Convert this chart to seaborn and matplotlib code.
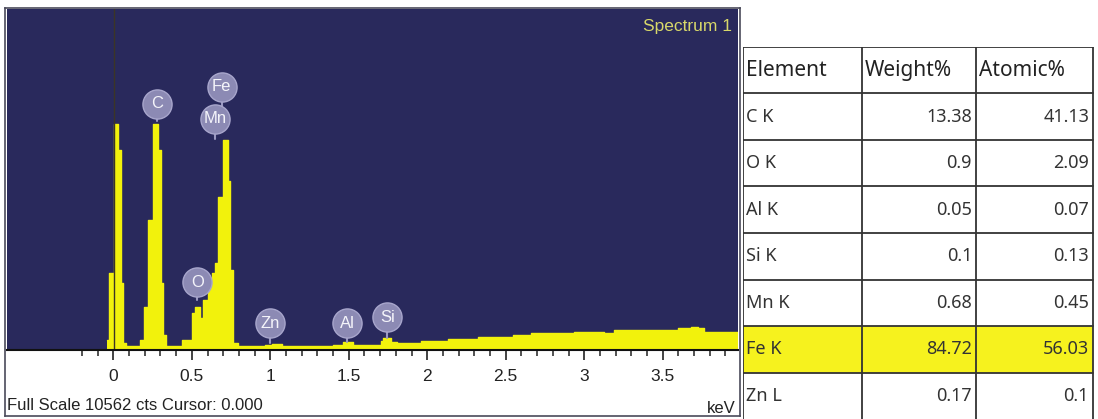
import numpy as np
import pandas as pd
import matplotlib
matplotlib.use('Agg')
import matplotlib.pyplot as plt
import seaborn as sns

# spectrum: step edges (keV) and counts per step
edges_kev = [-0.040, -0.027, 0.004, 0.030, 0.049, 0.062, 0.081, 0.170, 0.196, 0.221,
             0.253, 0.285, 0.304, 0.317, 0.336, 0.438, 0.502, 0.521, 0.553, 0.572,
             0.604, 0.630, 0.649, 0.668, 0.700, 0.732, 0.745, 0.764, 0.796, 0.968,
             1.013, 1.077, 1.191, 1.402, 1.466, 1.529, 1.702, 1.721, 1.766, 1.810,
             1.957, 2.129, 2.321, 2.544, 2.659, 2.933, 3.125, 3.189, 3.597, 3.680,
             3.724, 3.762, 3.980]
counts = [310, 2380, 7010, 6180, 2070, 230, 125, 310, 1330, 4020,
          7010, 6180, 2070, 460, 125, 310, 1140, 1330, 990, 1545,
          2010, 2380, 2690, 4730, 6490, 5250, 2470, 230, 125, 150,
          200, 120, 130, 165, 235, 165, 290, 370, 260, 205,
          290, 330, 390, 465, 515, 565, 515, 620, 670, 720,
          670, 565]

full_scale = 10562

# peak labels: element, keV, badge height (cts), stem end (cts)
peak_el = ['C', 'Fe', 'Mn', 'O', 'Zn', 'Al', 'Si']
peak_kev = [0.279, 0.690, 0.649, 0.535, 1.000, 1.490, 1.745]
peak_badge = [7630, 8160, 7170, 2100, 835, 835, 1020]
peak_stem = [7100, 7170, 6550, 1545, 215, 250, 370]

# quantification table
elements = ['C K', 'O K', 'Al K', 'Si K', 'Mn K', 'Fe K', 'Zn L']
weight_pct = ['13.38', '0.9', '0.05', '0.1', '0.68', '84.72', '0.17']
atomic_pct = ['41.13', '2.09', '0.07', '0.13', '0.45', '56.03', '0.1']
highlight = 'Fe K'

sns.set_theme(style='white')
plt.rcParams['font.family'] = ['Liberation Sans', 'DejaVu Sans']

W, H = 1098, 419
def box(x0, y0, x1, y1):
    return [x0 / W, 1 - y1 / H, (x1 - x0) / W, (y1 - y0) / H]

fig = plt.figure(figsize=(W / 100, H / 100), dpi=100)
fig.patch.set_facecolor('white')

# white frame around the spectrum window
frame = fig.add_axes(box(5, 8, 740, 416))
frame.set_xticks([])
frame.set_yticks([])
frame.set_facecolor('white')
for s in frame.spines.values():
    s.set_color('#4a4a5a')
    s.set_linewidth(1.2)

# spectrum
yellow = '#f2f20c'
ax = fig.add_axes(box(7, 9, 738, 350))
ax.set_facecolor('#29295c')
spec = pd.DataFrame({'keV': edges_kev, 'cts': counts + [counts[-1]]})
ax.fill_between(spec['keV'], spec['cts'], 0, step='post', color=yellow, lw=0, zorder=2)
sns.lineplot(data=spec, x='keV', y='cts', drawstyle='steps-post', color=yellow,
             lw=1, ax=ax, zorder=2)
ax.set_xlim(-0.678, 3.98)
ax.set_ylim(0, full_scale)
ax.set_xlabel('')
ax.set_ylabel('')
ax.set_yticks([])
ax.axvline(0.005, color='#3b3526', lw=1, zorder=3)

ax.set_xticks([0, 0.5, 1, 1.5, 2, 2.5, 3, 3.5])
ax.set_xticklabels(['0', '0.5', '1', '1.5', '2', '2.5', '3', '3.5'])
ax.set_xticks(np.arange(-0.2, 3.95, 0.1), minor=True)
ax.tick_params(axis='x', which='major', bottom=True, direction='out', length=7,
               width=1.2, color='#222222', labelsize=12.5, pad=7, labelcolor='#222222')
ax.tick_params(axis='x', which='minor', bottom=True, direction='out', length=4,
               width=1.1, color='#222222')
for side in ['top', 'left', 'right']:
    ax.spines[side].set_visible(False)
ax.spines['bottom'].set_color('#111111')
ax.spines['bottom'].set_linewidth(1.5)
ax.spines['bottom'].set_zorder(4)

# element badges
for el, k, yb, ys in zip(peak_el, peak_kev, peak_badge, peak_stem):
    ax.plot([k, k], [ys, yb], color='#9a98c0', lw=1.5, zorder=4)
    ax.scatter([k], [yb], s=440, color='#8c8ab4', edgecolor='#a8a6cc', linewidth=1, zorder=5)
    ax.text(k, yb, el, color='#f4f4fa', fontsize=12, ha='center', va='center', zorder=6)

ax.text((732 - 7) / 731, (350 - 27) / 341, 'Spectrum 1', transform=ax.transAxes,
        color='#d8d86a', fontsize=12.5, ha='right', va='center')

fig.text(7 / W, 1 - 405 / H, 'Full Scale 10562 cts Cursor: 0.000', fontsize=12,
         color='#222222', ha='left', va='center')
fig.text(736 / W, 1 - 408 / H, 'keV', fontsize=12, color='#222222', ha='right', va='center')

# table
tax = fig.add_axes(box(743, 47, 1094, 419))
tax.set_xlim(0, 351)
tax.set_ylim(8, 0)
tax.axis('off')
col_edges = [0, 119, 233, 350]
n_rows = len(elements) + 1
hi = elements.index(highlight) + 1
tax.fill_between([0, 350], hi, hi + 1, color='#f6f21e', lw=0)
for r in range(n_rows):
    tax.plot([0, 350], [r, r], color='#333333', lw=1.3)
for c in col_edges:
    tax.plot([c, c], [0, n_rows], color='#333333', lw=1.3)

tfont = ['Noto Sans', 'DejaVu Sans']
headers = ['Element', 'Weight%', 'Atomic%']
for c, h in enumerate(headers):
    tax.text(col_edges[c] + 3, 0.5, h, fontsize=15, family=tfont, color='#222222',
             ha='left', va='center')
for i, (el, w, a) in enumerate(zip(elements, weight_pct, atomic_pct)):
    y = i + 1.5
    tax.text(col_edges[0] + 3, y, el, fontsize=13, family=tfont, color='#333333',
             ha='left', va='center')
    tax.text(col_edges[2] - 4, y, w, fontsize=13, family=tfont, color='#333333',
             ha='right', va='center')
    tax.text(col_edges[3] - 4, y, a, fontsize=13, family=tfont, color='#333333',
             ha='right', va='center')

plt.savefig('out.png', dpi=100)
